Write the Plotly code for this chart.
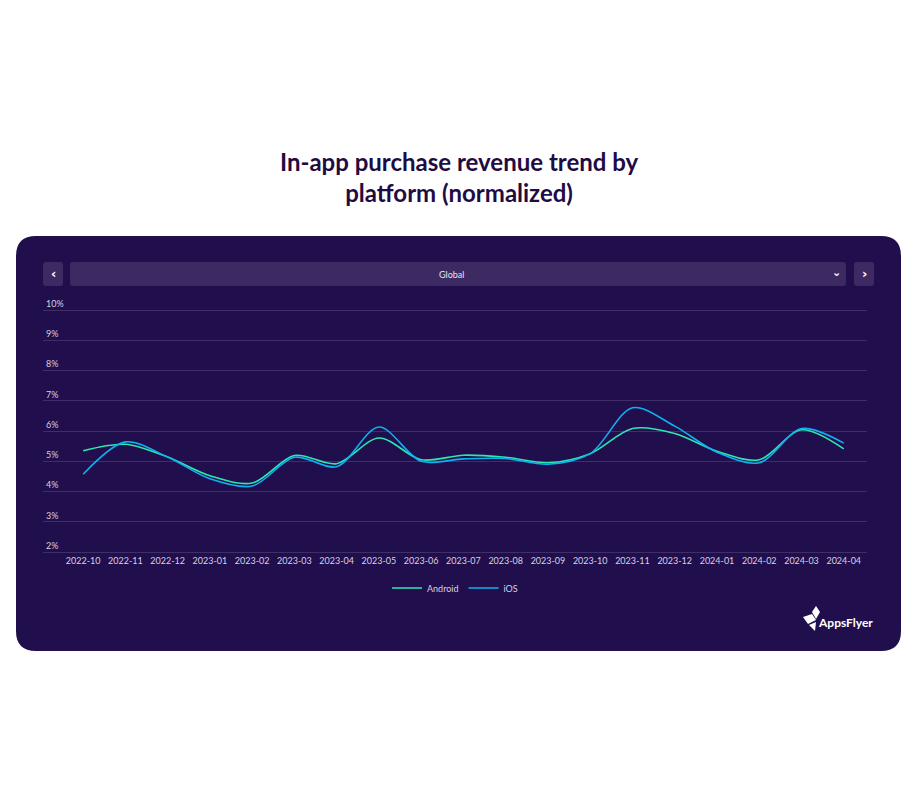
import plotly.graph_objects as go

months = ["2022-10", "2022-11", "2022-12", "2023-01", "2023-02", "2023-03", "2023-04",
          "2023-05", "2023-06", "2023-07", "2023-08", "2023-09", "2023-10", "2023-11",
          "2023-12", "2024-01", "2024-02", "2024-03", "2024-04"]
android = [5.35, 5.56, 5.14, 4.52, 4.28, 5.19, 4.92, 5.77, 5.05, 5.20, 5.13, 4.95, 5.25,
           6.08, 5.92, 5.33, 5.05, 6.04, 5.41]
ios = [4.57, 5.64, 5.14, 4.42, 4.18, 5.13, 4.82, 6.13, 5.00, 5.08, 5.09, 4.90, 5.25,
       6.77, 6.16, 5.30, 4.95, 6.08, 5.60]
ytick_vals = [2, 3, 4, 5, 6, 7, 8, 9, 10]
ytick_text = ["2%", "3%", "4%", "5%", "6%", "7%", "8%", "9%", "10%"]

W, H = 919, 810
OFF = 8  # page body margin
BG_PANEL = "#210e4c"
BAR = "#3d2a63"
TXT = "#d6d1e3"


def px(x):
    return (x - OFF) / W


def py(y):
    return 1 - (y - OFF) / H


def rounded(x0, y0, x1, y1, r):
    p = lambda x, y: f"{px(x):.5f},{py(y):.5f}"
    return (f"M {p(x0 + r, y0)} L {p(x1 - r, y0)} Q {p(x1, y0)} {p(x1, y0 + r)} "
            f"L {p(x1, y1 - r)} Q {p(x1, y1)} {p(x1 - r, y1)} "
            f"L {p(x0 + r, y1)} Q {p(x0, y1)} {p(x0, y1 - r)} "
            f"L {p(x0, y0 + r)} Q {p(x0, y0)} {p(x0 + r, y0)} Z")


def poly(pts):
    s = " L ".join(f"{px(x):.5f},{py(y):.5f}" for x, y in pts)
    return f"M {s} Z"


def ann(text, x, y, size, color, family="Lato", xanchor="center"):
    return dict(text=text, x=px(x), y=py(y), xref="paper", yref="paper", showarrow=False,
                xanchor=xanchor, yanchor="middle", align="center",
                font=dict(family=family, size=size, color=color))


fig = go.Figure()
fig.add_trace(go.Scatter(x=months, y=android, name="Android", mode="lines",
                         line=dict(color="#2be8b0", width=1.6, shape="spline", smoothing=0.9)))
fig.add_trace(go.Scatter(x=months, y=ios, name="iOS", mode="lines",
                         line=dict(color="#0fb0ee", width=1.6, shape="spline", smoothing=0.9)))

shapes = [
    dict(type="path", xref="paper", yref="paper", path=rounded(16, 236, 901, 651, 20),
         fillcolor=BG_PANEL, line=dict(width=0), layer="below"),
    dict(type="path", xref="paper", yref="paper", path=rounded(43, 262, 63, 286, 3),
         fillcolor=BAR, line=dict(width=0), layer="below"),
    dict(type="path", xref="paper", yref="paper", path=rounded(70, 262, 846, 286, 3),
         fillcolor=BAR, line=dict(width=0), layer="below"),
    dict(type="path", xref="paper", yref="paper", path=rounded(854, 262, 874, 286, 3),
         fillcolor=BAR, line=dict(width=0), layer="below"),
    # logo mark
    dict(type="path", xref="paper", yref="paper",
         path=poly([(803, 617), (812, 614), (816, 620), (808, 624)]),
         fillcolor="#ffffff", line=dict(width=0)),
    dict(type="path", xref="paper", yref="paper",
         path=poly([(812, 612), (816, 606), (820, 612), (816, 619)]),
         fillcolor="#ffffff", line=dict(width=0)),
    dict(type="path", xref="paper", yref="paper",
         path=poly([(809, 625), (816, 622), (815, 631)]),
         fillcolor="#ffffff", line=dict(width=0)),
]

annotations = [
    ann("<b>In-app purchase revenue trend by<br>platform (normalized)</b>", 459, 177, 24,
        "#1f0c44"),
    ann("Global", 451, 274, 9, "#e6e2ef"),
    ann("<b>‹</b>", 53, 273, 13, "#ffffff", family="DejaVu Sans"),
    ann("<b>›</b>", 864, 273, 13, "#ffffff", family="DejaVu Sans"),
    ann("<b>⌄</b>", 836, 272, 11, "#ffffff", family="DejaVu Sans"),
    ann("<b>AppsFlyer</b>", 875, 622, 12, "#ffffff", xanchor="right"),
]

PER = 30.25  # px per 1%
Y0, Y1 = 1.85, 10.5
fig.update_layout(
    width=W, height=H,
    margin=dict(l=0, r=0, t=0, b=0),
    paper_bgcolor="#ffffff",
    plot_bgcolor=BG_PANEL,
    shapes=shapes,
    annotations=annotations,
    showlegend=True,
    legend=dict(orientation="h", x=px(455), xanchor="center", y=py(588), yanchor="middle",
                font=dict(family="Lato", size=9, color=TXT), bgcolor="rgba(0,0,0,0)",
                itemwidth=30),
    xaxis=dict(type="category", domain=[px(43), px(867)], showgrid=False, zeroline=False,
               tickfont=dict(family="Lato", size=9, color=TXT), ticks="",
               showline=False, range=[-0.95, 18.55], tickangle=0, ticklabelstandoff=-3),
    yaxis=dict(domain=[py(552 + (2 - Y0) * PER), py(310 - (Y1 - 10) * PER)], range=[Y0, Y1],
               tickvals=ytick_vals, ticktext=ytick_text, ticklabelposition="inside top",
               tickfont=dict(family="Lato", size=9, color=TXT),
               gridcolor="#3f2f66", gridwidth=1, zeroline=False, showline=False),
)

fig.write_html("out.html")
